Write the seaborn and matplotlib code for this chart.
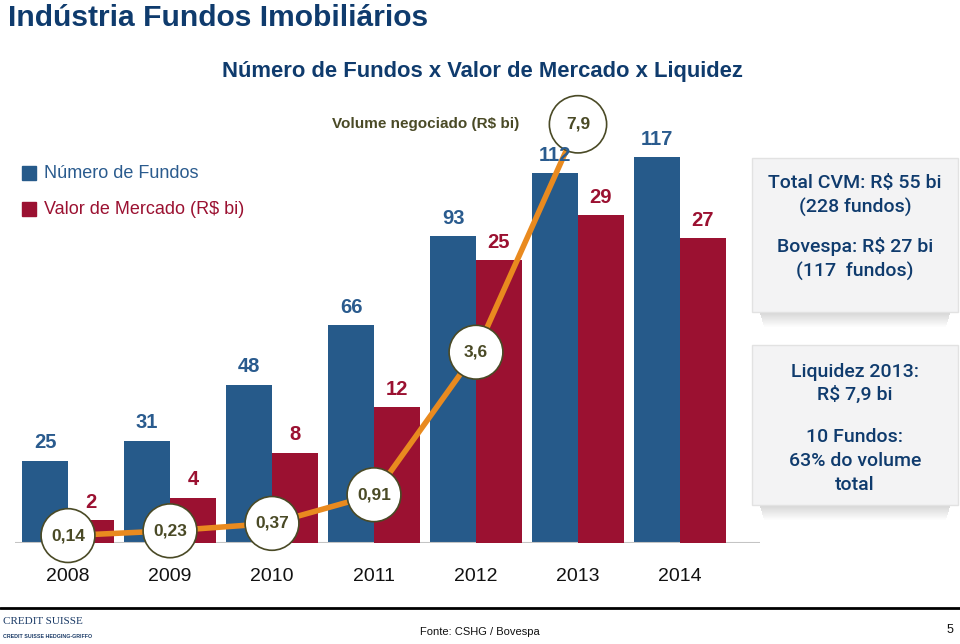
import numpy as np
import pandas as pd
import matplotlib
matplotlib.use("Agg")
import matplotlib.pyplot as plt
from matplotlib.patches import Rectangle
import seaborn as sns

# ---------------- data ----------------
years = ["2008", "2009", "2010", "2011", "2012", "2013", "2014"]
num_fundos = [25, 31, 48, 66, 93, 112, 117]
valor_mercado = [2, 4, 8, 12, 25, 29, 27]
vol_years = ["2008", "2009", "2010", "2011", "2012", "2013"]
volume = [0.14, 0.23, 0.37, 0.91, 3.6, 7.9]
volume_labels = ["0,14", "0,23", "0,37", "0,91", "3,6", "7,9"]
series_names = ["Número de Fundos", "Valor de Mercado (R$ bi)"]

BLUE = "#265A8A"
RED = "#9B1131"
BLUE_TXT = "#2A5B8E"
RED_TXT = "#9B1131"
NAVY = "#0F3B6D"
ORANGE = "#E98A1F"
OLIVE = "#4A4A26"
CLEAR = (1, 1, 1, 0)

sns.set_theme(style="white")
plt.rcParams["font.family"] = ["Liberation Sans", "DejaVu Sans"]

W, H = 960, 644
fig = plt.figure(figsize=(W / 100, H / 100), dpi=100)


def fx(x):
    return x / W


def fy(y):
    return 1 - y / H


base_px = 543
top_px = 80
left_px, right_px = 15, 760
ax = fig.add_axes([fx(left_px), fy(base_px), fx(right_px - left_px), (base_px - top_px) / H])

df = pd.DataFrame({
    "ano": years * 2,
    "valor": num_fundos + valor_mercado,
    "serie": [series_names[0]] * len(years) + [series_names[1]] * len(years),
})

# blue series on the left axis scale (red drawn invisible there)
sns.barplot(data=df, x="ano", y="valor", hue="serie", hue_order=series_names,
            order=years, palette=[BLUE, CLEAR], width=0.9, ax=ax, legend=False,
            saturation=1, errorbar=None, linewidth=0)
# red series on its own (secondary) scale
ax2 = ax.twinx()
sns.barplot(data=df, x="ano", y="valor", hue="serie", hue_order=series_names,
            order=years, palette=[CLEAR, RED], width=0.9, ax=ax2, legend=False,
            saturation=1, errorbar=None, linewidth=0)
ax3 = ax.twinx()

xpos = [years.index(y) for y in vol_years]
sns.lineplot(x=xpos, y=volume, ax=ax3, color=ORANGE, lw=4, zorder=2)
sizes = [1500] * (len(volume) - 1) + [1700]
ax3.scatter(xpos, volume, s=sizes, facecolor="white", edgecolor=OLIVE, lw=1.2, zorder=3,
            clip_on=False)
for x, v, lab in zip(xpos, volume, volume_labels):
    ax3.text(x, v, lab, ha="center", va="center", fontsize=12.5, color=OLIVE,
             fontweight="bold", zorder=4)

span = base_px - top_px
ax.set_ylim(0, span / 3.30)
ax2.set_ylim(0, span / 11.3)
ax3.set_ylim(0, span / 53.0)
for a in (ax, ax2, ax3):
    a.set_xlim((left_px - 68) / 102, (right_px - 68) / 102)
    a.set_yticks([])
    a.set_ylabel("")
    a.set_xlabel("")
    for s in a.spines.values():
        s.set_visible(False)
ax2.set_xticks([])
ax3.set_xticks([])
ax.set_xticks(range(len(years)))
ax.set_xticklabels(years, fontsize=14, color="#111111")
ax.tick_params(axis="x", length=0, pad=18)
ax.axhline(0, color="#C4C4C4", lw=1.5, zorder=5)


def label_bars(a, values, color):
    bars = [p for p in a.patches if p.get_facecolor()[3] > 0 and p.get_height() > 0]
    bars.sort(key=lambda p: p.get_x())
    for p, v in zip(bars, values):
        # drawn on the top axes so the labels sit above the line
        ax3.annotate(str(v), (p.get_x() + p.get_width() / 2, p.get_height()),
                     xycoords=a.transData, xytext=(0, 6), textcoords="offset points",
                     ha="center", va="bottom", fontsize=14.5, color=color,
                     fontweight="bold", zorder=6)


label_bars(ax, num_fundos, BLUE_TXT)
label_bars(ax2, valor_mercado, RED_TXT)

# ---------------- titles ----------------
fig.text(fx(8), fy(18), "Indústria Fundos Imobiliários", fontsize=21.6,
         fontweight="bold", color=NAVY, ha="left", va="center")
fig.text(fx(482), fy(72), "Número de Fundos x Valor de Mercado x Liquidez", fontsize=15.8,
         fontweight="bold", color=NAVY, ha="center", va="center")
fig.text(fx(519), fy(124), "Volume negociado (R$ bi)", fontsize=11,
         fontweight="bold", color=OLIVE, ha="right", va="center")

# ---------------- legend ----------------
fig.add_artist(Rectangle((fx(22), fy(180)), fx(14), 14 / H, color=BLUE, transform=fig.transFigure))
fig.add_artist(Rectangle((fx(22), fy(216)), fx(14), 14 / H, color=RED, transform=fig.transFigure))
fig.text(fx(44), fy(174), series_names[0], fontsize=13, color=BLUE_TXT, va="center")
fig.text(fx(44), fy(210), series_names[1], fontsize=13, color=RED_TXT, va="center")


# ---------------- side boxes ----------------
def box(x0, y0, x1, y1):
    for i in range(14):
        a = 0.05 * (1 - i / 14)
        fig.add_artist(Rectangle((fx(x0 + 8 + i * 0.3), fy(y1 + 2 + i)), fx(x1 - x0 - 16 - i * 0.6), 1.2 / H,
                                 color="black", alpha=a * 3, lw=0, transform=fig.transFigure))
    fig.add_artist(Rectangle((fx(x0), fy(y1)), fx(x1 - x0), (y1 - y0) / H,
                             facecolor="#F3F3F4", edgecolor="#E2E2E2", lw=1,
                             transform=fig.transFigure))


box(752, 158, 958, 312)
box(752, 345, 958, 505)
for txt, y in [("Total CVM: R$ 55 bi", 183), ("(228 fundos)", 207),
               ("Bovespa: R$ 27 bi", 246), ("(117  fundos)", 271),
               ("Liquidez 2013:", 372), ("R$ 7,9 bi", 395),
               ("10 Fundos:", 437), ("63% do volume", 461), ("total", 485)]:
    fig.text(fx(855), fy(y), txt, fontsize=14, color=NAVY, ha="center", va="center",
             family=["Roboto", "Liberation Sans"], fontweight="medium")

# ---------------- footer ----------------
fig.add_artist(plt.Line2D([0, 1], [fy(608), fy(608)], color="black", lw=2,
                          transform=fig.transFigure))
fig.text(fx(480), fy(632), "Fonte: CSHG / Bovespa", fontsize=8, color="#111111",
         ha="center", va="center")
fig.text(fx(950), fy(630), "5", fontsize=9, color="#111111", ha="center", va="center")
fig.text(fx(3), fy(622), "CREDIT SUISSE", fontsize=8, family="Liberation Serif",
         color="#1A3A66", ha="left", va="center")
fig.text(fx(3), fy(637), "CREDIT SUISSE HEDGING-GRIFFO", fontsize=3.8,
         color="#1A3A66", ha="left", va="center", fontweight="bold")

fig.savefig("out.png", dpi=100)
